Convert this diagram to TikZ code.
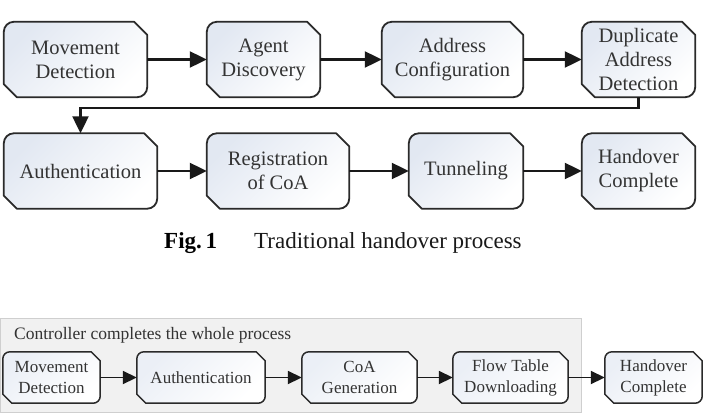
\documentclass[tikz,border=0pt]{standalone}
\usepackage{fontspec}
\setmainfont{Liberation Serif}
\usetikzlibrary{arrows.meta,backgrounds}
\definecolor{txt}{HTML}{333333}
\definecolor{boxtop}{HTML}{E2E8F2}
\definecolor{boxline}{HTML}{2A2A2A}
\definecolor{ctrfill}{HTML}{F1F1F1}
\definecolor{ctrline}{HTML}{CFCFCF}
\newcommand\drawbox[4]{%
  \path[#4] ([yshift=#3]#1.south west) -- ([yshift=-#2]#1.north west)
  .. controls ([yshift=-0.45*#2]#1.north west) and ([xshift=0.45*#2]#1.north west) .. ([xshift=#2]#1.north west)
  -- ([xshift=-#3]#1.north east) -- ([yshift=-#3]#1.north east)
  -- ([yshift=#2]#1.south east)
  .. controls ([yshift=0.45*#2]#1.south east) and ([xshift=-0.45*#2]#1.south east) .. ([xshift=-#2]#1.south east)
  -- ([xshift=#3]#1.south west) -- cycle;}
\tikzset{
  pbox/.style={inner sep=0pt, align=center, text=txt,
    font=\fontsize{20.5}{24}\selectfont, minimum height=75pt},
  sbox/.style={inner sep=0pt, align=center, text=txt,
    font=\fontsize{17}{21}\selectfont, minimum height=51pt},
  shapebig/.style={draw=boxline, line width=1.8pt, line join=round,
    top color=boxtop, bottom color=white, shading angle=45},
  shapesmall/.style={draw=boxline, line width=1.5pt, line join=round,
    top color=boxtop!70!white, bottom color=white, shading angle=45},
  arr/.style={draw=black!90, line width=2.2pt,
    -{Triangle[length=17pt,width=16pt]}},
  arrs/.style={draw=black!90, line width=1.8pt,
    -{Triangle[length=14pt,width=13pt]}},
}
\begin{document}
\begin{tikzpicture}[x=1pt,y=-1pt]
\useasboundingbox (0,0) rectangle (707,418);
% row 1
\node[pbox, minimum width=143pt] (md1) at (75.5,59.5) {Movement\\Detection};
\node[pbox, minimum width=113pt] (ad) at (263.5,59.5) {Agent\\Discovery};
\node[pbox, minimum width=141pt] (ac) at (452.5,59.5) {Address\\Configuration};
\node[pbox, minimum width=113pt] (dad) at (638.5,59.5) {Duplicate\\Address\\Detection};
% row 2
\node[pbox, minimum width=153pt] (au1) at (80.5,171) {Authentication};
\node[pbox, minimum width=142pt] (reg) at (278,171) {Registration\\of CoA};
\node[pbox, minimum width=114pt] (tun) at (466,171) {Tunneling};
\node[pbox, minimum width=113pt] (hc1) at (638.5,171) {Handover\\Complete};
% caption
\node[anchor=west, inner sep=0pt, font=\fontsize{23}{27}\selectfont\bfseries] (fig) at (164,243) {Fig.\,1};
\node[anchor=west, inner sep=0pt, font=\fontsize{23}{27}\selectfont, text=black!90] (cap) at (254,243) {Traditional handover process};
% container
\node[anchor=north west, inner sep=0pt, minimum width=581pt, minimum height=94pt] (ctr) at (0.5,318) {};
\node[anchor=west, inner sep=0pt, text=txt, font=\fontsize{17.5}{21}\selectfont] (ttl) at (14,335) {Controller completes the whole process};
% row 3
\node[sbox, minimum width=97pt] (md2) at (51.5,377.5) {Movement\\Detection};
\node[sbox, minimum width=128pt] (au2) at (201,377.5) {Authentication};
\node[sbox, minimum width=115pt] (coa) at (359.5,377.5) {CoA\\Generation};
\node[sbox, minimum width=115pt] (ftd) at (510.5,377.5) {Flow Table\\Downloading};
\node[sbox, minimum width=97pt] (hc2) at (653.5,377.5) {Handover\\Complete};
\begin{pgfonlayer}{background}
\path[fill=ctrfill, draw=ctrline, line width=1pt] (ctr.north west) rectangle (ctr.south east);
\drawbox{md1}{10}{13}{shapebig}
\drawbox{ad}{10}{13}{shapebig}
\drawbox{ac}{10}{13}{shapebig}
\drawbox{dad}{10}{13}{shapebig}
\drawbox{au1}{10}{13}{shapebig}
\drawbox{reg}{10}{13}{shapebig}
\drawbox{tun}{10}{13}{shapebig}
\drawbox{hc1}{10}{13}{shapebig}
\drawbox{md2}{7}{9}{shapesmall}
\drawbox{au2}{7}{9}{shapesmall}
\drawbox{coa}{7}{9}{shapesmall}
\drawbox{ftd}{7}{9}{shapesmall}
\drawbox{hc2}{7}{9}{shapesmall}
\end{pgfonlayer}
% connectors
\draw[arr] (md1) -- (ad);
\draw[arr] (ad) -- (ac);
\draw[arr] (ac) -- (dad);
\draw[arr] (dad.south) -- ++(0,11) -| (au1.north);
\draw[arr] (au1) -- (reg);
\draw[arr] (reg) -- (tun);
\draw[arr] (tun) -- (hc1);
\draw[arrs] (md2) -- (au2);
\draw[arrs] (au2) -- (coa);
\draw[arrs] (coa) -- (ftd);
\draw[arrs] (ftd) -- (hc2);
\end{tikzpicture}
\end{document}
